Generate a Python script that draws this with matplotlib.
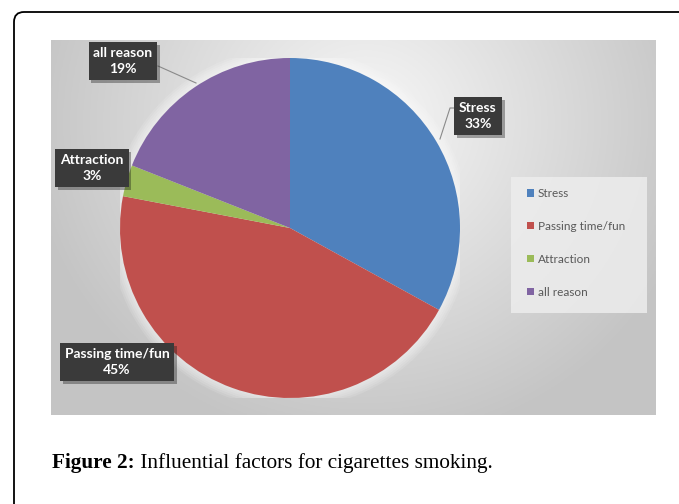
import matplotlib
matplotlib.use("Agg")
import matplotlib.pyplot as plt
import matplotlib.patheffects as pe
import numpy as np
from matplotlib.patches import FancyBboxPatch, Rectangle, Circle
from matplotlib.transforms import IdentityTransform

# data
labels = ["Stress", "Passing time/fun", "Attraction", "all reason"]
shares = [33, 45, 3, 19]
colors = ["#4F81BD", "#C0504D", "#9BBB59", "#8064A2"]
caption_bold = "Figure 2:"
caption_rest = " Influential factors for cigarettes smoking."

W, H = 679, 504
fig = plt.figure(figsize=(W / 100, H / 100), dpi=100)

def fx(px):
    return px / W

def fy(py):
    return 1 - py / H

# outer rounded frame (only top/left visible)
frame = FancyBboxPatch((14, -30), 720, H - 12 + 30,
                       boxstyle="round,pad=0,rounding_size=10",
                       transform=IdentityTransform(), fc="white", ec="black",
                       lw=1.3, zorder=-5)
fig.patches.append(frame)

# gray gradient chart area
bg = fig.add_axes([fx(51), fy(415), 605 / W, 375 / H])
yy, xx = np.mgrid[0:1:200j, 0:1:300j]
d = np.sqrt(((xx - 0.52) / 0.62) ** 2 + ((yy - 0.22) / 0.95) ** 2)
g = np.clip(0.97 - 0.22 * d, 0.77, 0.96)
bg.imshow(np.dstack([g, g, g]), extent=(0, 1, 0, 1), origin="upper", aspect="auto")
bg.set_axis_off()

# legend backing box inside the chart area
bg.add_patch(Rectangle(((511 - 51) / 605, (415 - 313) / 375), 136 / 605, 136 / 375,
                       transform=bg.transAxes, fc="#ededed", ec="none", alpha=0.85))

# pie
cx, cy, r = 290, 228, 170
ax = fig.add_axes([fx(cx - r), fy(cy + r), 2 * r / W, 2 * r / H])
for i in range(1, 6):
    ax.add_patch(Circle((0, 0), 1 + 0.012 * i, fc="white", ec="none", alpha=0.12, zorder=0))
wedges, _ = ax.pie(shares, colors=colors, startangle=90, counterclock=False,
                   radius=1, wedgeprops=dict(linewidth=0))
ax.set_xlim(-1, 1)
ax.set_ylim(-1, 1)
ax.set_axis_off()

def to_data(px, py):
    return (px - cx) / r, (cy - py) / r

# label box centres (pixels)
label_pos = [(478, 116), (117, 362), (92, 168), (123, 61)]
for lab, val, (px, py) in zip(labels, shares, label_pos):
    x, y = to_data(px, py)
    t = ax.text(x, y, f"{lab}\n{val}%", ha="center", va="center", color="white",
                fontsize=10, fontweight="bold", family="Lato", linespacing=1.45,
                bbox=dict(boxstyle="square,pad=0.35", fc="#3a3a3a", ec="none"),
                clip_on=False, zorder=5)
    t.get_bbox_patch().set_path_effects(
        [pe.SimplePatchShadow(offset=(2, -2), alpha=0.35), pe.Normal()])

# leader lines
for pts in ([(158, 66), (196, 83)], [(455, 108), (450, 108), (440, 139)]):
    xs, ys = zip(*[to_data(*p) for p in pts])
    ax.plot(xs, ys, color="#8a8a8a", lw=0.8, clip_on=False)

# legend
leg = fig.legend(wedges, labels, loc="upper left", bbox_to_anchor=(fx(527), fy(188)),
                 frameon=False, prop={"family": "Lato", "size": 8.5}, labelcolor="#595959",
                 handlelength=0.6, handleheight=0.6, handletextpad=0.3,
                 labelspacing=1.85, borderpad=0, borderaxespad=0)

# caption
t1 = fig.text(fx(52), fy(473), caption_bold, fontweight="bold",
              family="Liberation Serif", fontsize=15.3, va="bottom")
ax.annotate(caption_rest, xy=(1, 0), xycoords=t1, va="bottom", ha="left",
            family="Liberation Serif", fontsize=15.3, annotation_clip=False)

fig.savefig("out.png", dpi=100)
